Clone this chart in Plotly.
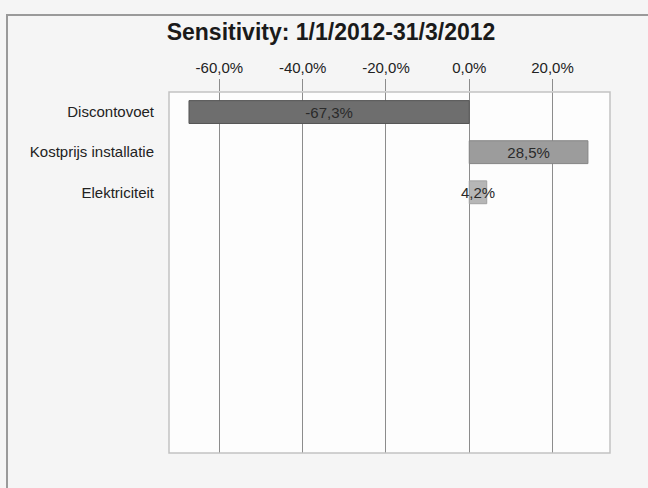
import plotly.graph_objects as go

# Sensitivity of the result to each input parameter (%)
categories = ["Discontovoet", "Kostprijs installatie", "Elektriciteit"]
values = [-67.3, 28.5, 4.2]
bar_colors = ["#6e6e6e", "#9c9c9c", "#b6b6b6"]
edge_colors = ["#555555", "#858585", "#a0a0a0"]
tick_values = [-60, -40, -20, 0, 20]
tick_labels = ["-60,0%", "-40,0%", "-20,0%", "0,0%", "20,0%"]
title_text = "Sensitivity: 1/1/2012-31/3/2012"

W, H = 648, 488
L, R, T, B = 169, 38, 92, 35

labels = [f"{v:.1f}%".replace(".", ",") for v in values]

fig = go.Figure()
fig.add_trace(go.Bar(
    y=list(range(len(categories))),
    x=values,
    orientation="h",
    width=0.57,
    marker=dict(color=bar_colors, line=dict(color=edge_colors, width=1)),
    text=labels,
    textposition="inside",
    insidetextanchor="middle",
    textangle=0,
    constraintext="none",
    textfont=dict(family="Liberation Sans, Arial, sans-serif", size=15, color="#2a2a2a"),
    cliponaxis=False,
    showlegend=False,
))

font = "Liberation Sans, Arial, sans-serif"

fig.update_layout(
    width=W, height=H,
    margin=dict(l=L, r=R, t=T, b=B, pad=0),
    paper_bgcolor="#f5f5f5",
    plot_bgcolor="#fdfdfd",
    font=dict(family=font, size=15, color="#222222"),
    title=dict(text="<b>" + title_text + "</b>", x=331 / W, xanchor="center",
               y=1 - 32 / H, yanchor="middle", xref="container", yref="container",
               font=dict(family=font, size=23, color="#1a1a1a")),
    xaxis=dict(
        side="top", range=[-72.1, 33.8],
        tickvals=tick_values, ticktext=tick_labels,
        showgrid=True, gridcolor="#8c8c8c", gridwidth=1.3,
        ticks="outside", ticklen=12, tickcolor="#8c8c8c", tickwidth=1.3,
        zeroline=False, showline=False,
        tickfont=dict(family=font, size=15, color="#222222"),
        fixedrange=True,
    ),
    yaxis=dict(
        range=[8.5, -0.5],
        tickvals=list(range(len(categories))), ticktext=categories,
        showgrid=False, zeroline=False, showline=False, ticks="",
        ticklabelstandoff=14,
        tickfont=dict(family=font, size=15, color="#222222"),
        fixedrange=True,
    ),
    shapes=[
        # plot area frame
        dict(type="rect", xref="paper", yref="paper", x0=0, y0=0, x1=1, y1=1,
             line=dict(color="#c2c2c2", width=1.5), layer="above"),
        # outer chart frame
        dict(type="rect", xref="paper", yref="paper",
             x0=(7 - L) / (W - L - R), x1=(W + 20 - L) / (W - L - R),
             y0=-(B + 20) / (H - T - B), y1=1 + (T - 15) / (H - T - B),
             line=dict(color="#9a9a9a", width=2), layer="below"),
    ],
)

fig.write_html("out.html")
